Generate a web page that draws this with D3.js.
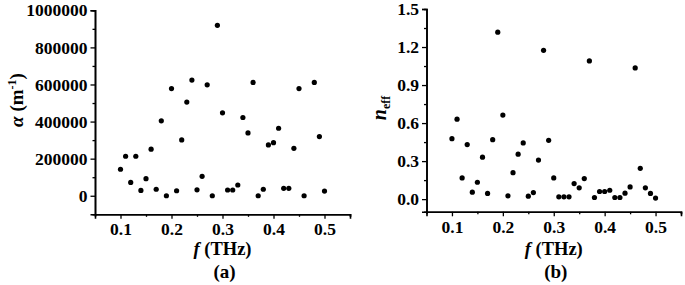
<!DOCTYPE html>
<html>
<head>
<meta charset="utf-8">
<script src="https://cdn.jsdelivr.net/npm/d3@7"></script>
<style>
  body { margin: 0; background: #fff; }
</style>
</head>
<body>
<svg id="chart" width="685" height="285"></svg>
<script>
// DATA
const freq = [0.10, 0.11, 0.12, 0.13, 0.14, 0.15, 0.16, 0.17, 0.18, 0.19,
  0.20, 0.21, 0.22, 0.23, 0.24, 0.25, 0.26, 0.27, 0.28, 0.29,
  0.30, 0.31, 0.32, 0.33, 0.34, 0.35, 0.36, 0.37, 0.38, 0.39,
  0.40, 0.41, 0.42, 0.43, 0.44, 0.45, 0.46, 0.47, 0.48, 0.49, 0.50];

// alpha (m^-1); no visible point at 0.47 THz
const alpha = [143000, 213000, 72000, 213000, 29000, 92000, 251000, 35000, 404000, 0,
  578000, 27000, 301000, 505000, 624000, 32000, 105000, 598000, 0, 919000,
  447000, 31000, 31000, 58000, 422000, 339000, 611000, 0, 35000, 274000,
  286000, 364000, 40000, 40000, 256000, 578000, 0, null, 611000, 319000, 25000];

const neff = [0.477, 0.631, 0.167, 0.430, 0.055, 0.133, 0.331, 0.045, 0.469, 1.317,
  0.663, 0.026, 0.209, 0.355, 0.443, 0.023, 0.052, 0.308, 1.174, 0.464,
  0.167, 0.018, 0.018, 0.018, 0.123, 0.089, 0.162, 1.090, 0.013, 0.060,
  0.060, 0.070, 0.013, 0.013, 0.047, 0.096, 1.035, 0.243, 0.089, 0.045, 0.008];

const xMajor = [0.1, 0.2, 0.3, 0.4, 0.5];
const xMinor = [0.15, 0.25, 0.35, 0.45, 0.55];
const aMajor = [0, 200000, 400000, 600000, 800000, 1000000];
const aMinor = [100000, 300000, 500000, 700000, 900000];
const nMajor = [0.0, 0.3, 0.6, 0.9, 1.2, 1.5];
const nMinor = [0.15, 0.45, 0.75, 1.05, 1.35];

const FONT = '"Liberation Serif", "Times New Roman", serif';
const svg = d3.select("#chart");

function txt(sel, size) {
  return sel.style("font-family", FONT).style("font-weight", "bold")
    .style("font-size", size + "px").style("fill", "#000");
}

function panel(opts) {
  const x = d3.scaleLinear().domain([0.05, 0.55]).range([opts.left, opts.right]);
  const y = d3.scaleLinear().domain(opts.yDomain).range([opts.bottom, opts.top]);
  const g = svg.append("g");

  // minor ticks (own groups so the major axes don't replace them)
  g.append("g").attr("transform", `translate(0,${opts.bottom})`)
    .call(d3.axisBottom(x).tickValues(xMinor).tickSize(2.5).tickFormat(""));
  g.append("g").attr("transform", `translate(${opts.left},0)`)
    .call(d3.axisLeft(y).tickValues(opts.yMinor).tickSize(2.5).tickFormat(""));

  // major axes
  g.append("g").attr("transform", `translate(0,${opts.bottom})`)
    .call(d3.axisBottom(x).tickValues(xMajor).tickSize(4.5).tickPadding(4)
      .tickFormat(d3.format(".1f")));
  g.append("g").attr("transform", `translate(${opts.left},0)`)
    .call(d3.axisLeft(y).tickValues(opts.yMajor).tickSize(4.5).tickPadding(3)
      .tickFormat(opts.fmt));

  g.selectAll(".domain").attr("stroke", "#000").attr("stroke-width", 1.6);
  g.selectAll(".tick line").attr("stroke", "#000").attr("stroke-width", 1.3);
  txt(g.selectAll(".tick text"), 17.5);

  // points
  const pts = freq.map((f, i) => ({ f, v: opts.values[i] })).filter(d => d.v != null);
  g.append("g").selectAll("circle")
    .data(pts)
    .join("circle")
    .attr("cx", d => x(d.f))
    .attr("cy", d => y(d.v))
    .attr("r", 2.6)
    .attr("fill", "#000");

  // x label
  const cx = (opts.left + opts.right) / 2;
  const xl = txt(g.append("text"), 18.5).attr("x", cx).attr("y", 255)
    .attr("text-anchor", "middle");
  xl.append("tspan").style("font-style", "italic").text("f");
  xl.append("tspan").text(" (THz)");

  txt(g.append("text"), 19).attr("x", cx + 2).attr("y", 278)
    .attr("text-anchor", "middle").text(opts.tag);

  return g;
}

const ga = panel({
  left: 95, right: 350, top: 10.3, bottom: 214.3,
  yDomain: [-100000, 1000000], yMajor: aMajor, yMinor: aMinor,
  fmt: d3.format("d"), values: alpha, tag: "(a)"
});
const ya = txt(ga.append("text"), 19).attr("transform", "translate(23,100) rotate(-90)")
  .attr("text-anchor", "middle");
ya.append("tspan").style("font-style", "italic").text("α");
ya.append("tspan").text(" (m");
ya.append("tspan").style("font-size", "12px").attr("dy", -7).text("-1");
ya.append("tspan").attr("dy", 7).text(")");

const gb = panel({
  left: 426.5, right: 681, top: 9, bottom: 211.8,
  yDomain: [-0.1, 1.5], yMajor: nMajor, yMinor: nMinor,
  fmt: d3.format(".1f"), values: neff, tag: "(b)"
});
const yb = txt(gb.append("text"), 20).attr("transform", "translate(386,108) rotate(-90)")
  .attr("text-anchor", "middle");
yb.append("tspan").style("font-style", "italic").text("n");
yb.append("tspan").style("font-size", "12px").attr("dy", 4).text("eff");
</script>
</body>
</html>
